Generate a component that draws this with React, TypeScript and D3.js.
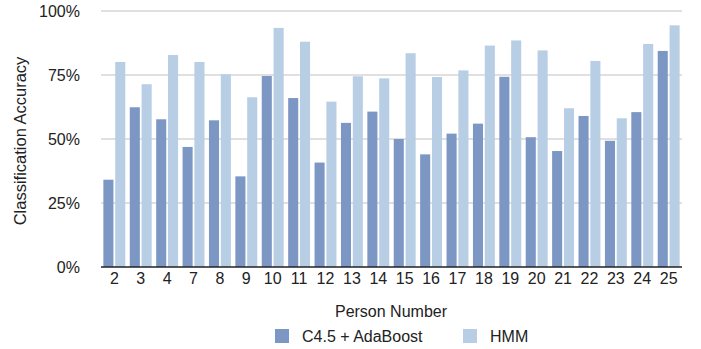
import React from "react";
import * as d3 from "d3";

const categories = ["2", "3", "4", "7", "8", "9", "10", "11", "12", "13", "14", "15", "16", "17", "18", "19", "20", "21", "22", "23", "24", "25"];
const c45Values = [34.1, 62.4, 57.7, 46.9, 57.3, 35.4, 74.6, 66.0, 40.8, 56.3, 60.7, 50.0, 44.0, 52.1, 56.0, 74.3, 50.7, 45.3, 59.0, 49.3, 60.5, 84.4];
const hmmValues = [80.1, 71.4, 82.8, 80.1, 75.3, 66.3, 93.4, 88.0, 64.6, 74.5, 73.7, 83.5, 74.2, 76.8, 86.5, 88.5, 84.6, 62.0, 80.5, 58.1, 87.1, 94.4];
const seriesNames = ["C4.5 + AdaBoost", "HMM"];
const yTicks = [0, 25, 50, 75, 100];

const colors = ["#7c97c3", "#b7cee4"];
const font = "'Liberation Sans', Arial, Helvetica, sans-serif";

export default function App() {
  const W = 701, H = 349;
  const left = 101, right = 682, top = 11, bottom = 267;
  const x0 = d3.scaleBand<string>().domain(categories).range([left, right]).paddingInner(0.17).paddingOuter(0.09);
  const x1 = d3.scaleBand<string>().domain(seriesNames).range([0, x0.bandwidth()]).paddingInner(0.15);
  const y = d3.scaleLinear().domain([0, 100]).range([bottom, top]);
  const data = [c45Values, hmmValues];

  return (
    <svg width={W} height={H} style={{ position: "absolute", left: 0, top: 0, background: "#fff" }} fontFamily={font}>
      {yTicks.map((t) => (
        <g key={t}>
          {t > 0 && <line x1={left} x2={right} y1={y(t)} y2={y(t)} stroke="#c2c2c2" strokeWidth={1.2} />}
          <text x={80} y={y(t)} dy="0.35em" textAnchor="end" fontSize={16} fill="#222">{t}%</text>
        </g>
      ))}
      {categories.map((c, i) => (
        <g key={c}>
          {seriesNames.map((s, j) => {
            const v = data[j][i];
            const bx = (x0(c) as number) + (x1(s) as number);
            return <rect key={s} x={bx} y={y(v)} width={x1.bandwidth()} height={y(0) - y(v)} fill={colors[j]} />;
          })}
          <text x={(x0(c) as number) + x0.bandwidth() / 2} y={284} textAnchor="middle" fontSize={16} fill="#222">{c}</text>
        </g>
      ))}
      <line x1={left} x2={right} y1={y(0)} y2={y(0)} stroke="#222" strokeWidth={1.3} />
      <text transform={`translate(26,141) rotate(-90)`} textAnchor="middle" fontSize={16.5} fill="#222">Classification Accuracy</text>
      <text x={391} y={317} textAnchor="middle" fontSize={16} fill="#222">Person Number</text>
      {seriesNames.map((s, j) => {
        const lx = j === 0 ? 275 : 463;
        return (
          <g key={s}>
            <rect x={lx} y={329} width={14} height={14} fill={colors[j]} />
            <text x={lx + 27} y={342} fontSize={16} fill="#222">{s}</text>
          </g>
        );
      })}
    </svg>
  );
}
